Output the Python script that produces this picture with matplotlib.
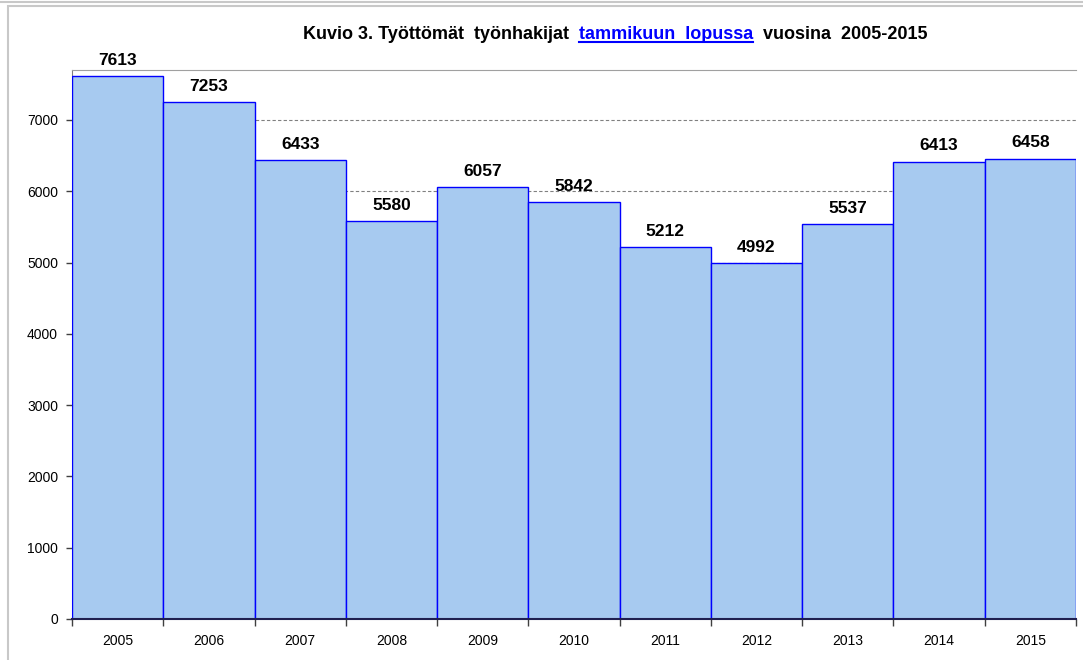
import matplotlib
matplotlib.use("Agg")
import matplotlib.pyplot as plt
from matplotlib.patches import Rectangle
from matplotlib.lines import Line2D

years = ["2005", "2006", "2007", "2008", "2009", "2010",
         "2011", "2012", "2013", "2014", "2015"]
values = [7613, 7253, 6433, 5580, 6057, 5842, 5212, 4992, 5537, 6413, 6458]
y_ticks = [0, 1000, 2000, 3000, 4000, 5000, 6000, 7000]

title_parts = [
    ("Kuvio 3. Työttömät  työnhakijat  ", "black", False),
    ("tammikuun  lopussa", "#0000FF", True),
    ("  vuosina  2005-2015", "black", False),
]

FONT = "Liberation Sans"
W, H = 1083, 660

fig = plt.figure(figsize=(W / 100, H / 100), dpi=100)
fig.patch.set_facecolor("white")

# outer chart frame
fig.add_artist(Line2D([0, 1], [1 - 2 / H, 1 - 2 / H], color="#C8C8C8", lw=1.5))
fig.add_artist(Rectangle((8 / W, -0.05), 1.1, 1 - 6 / H + 0.05, transform=fig.transFigure,
                         fill=False, edgecolor="#C8C8C8", lw=1.5))

ax = fig.add_axes([72 / W, 1 - 619 / H, (1076 - 72) / W, (619 - 70) / H])
x = list(range(len(years)))
bars = ax.bar(x, values, width=1.0, color="#A7CAF0", edgecolor="#0000FF",
              linewidth=1.0, zorder=3)
ax.set_xlim(-0.5, len(years) - 0.5)
ax.set_ylim(0, 7700)

ax.set_yticks(y_ticks)
ax.set_yticklabels([str(v) for v in y_ticks], fontsize=10, family=FONT)
ax.set_xticks(x)
ax.set_xticklabels(years, fontsize=10, family=FONT)
ax.tick_params(axis="x", which="major", length=0, pad=11)
ax.set_xticks([i - 0.5 for i in range(len(years) + 1)], minor=True)
ax.tick_params(axis="x", which="minor", length=5, width=1, color="#404040", direction="out")
ax.tick_params(axis="y", length=4, width=1, color="#404040", pad=6)

for v in y_ticks[1:]:
    ax.axhline(v, color="#808080", lw=0.8, ls=(0, (3, 2)), zorder=1)

ax.spines["top"].set_color("#A0A0A0")
ax.spines["right"].set_visible(False)
ax.spines["left"].set_color("#808080")
ax.spines["bottom"].set_color("#202050")
ax.spines["bottom"].set_linewidth(1.5)
ax.spines["bottom"].set_zorder(4)

for bar, v in zip(bars, values):
    ax.annotate(str(v), (bar.get_x() + bar.get_width() / 2, v),
                xytext=(0, 6), textcoords="offset points", ha="center", va="bottom",
                fontsize=12.5, fontweight="bold", family=FONT)

# title made of pieces, blue part underlined
renderer = fig.canvas.get_renderer()
texts = []
for s, c, u in title_parts:
    t = fig.text(0, 1 - 39 / H, s, color=c, fontsize=13, fontweight="bold",
                 family=FONT, ha="left", va="baseline")
    texts.append((t, u))
widths = [t.get_window_extent(renderer).width for t, _ in texts]
total = sum(widths)
start = 615 - total / 2
for (t, u), w in zip(texts, widths):
    t.set_x(start / W)
    if u:
        yy = 1 - 42 / H
        fig.add_artist(Line2D([start / W, (start + w) / W], [yy, yy],
                              color="#0000FF", lw=1.5))
    start += w

fig.savefig("out.png", dpi=100)
